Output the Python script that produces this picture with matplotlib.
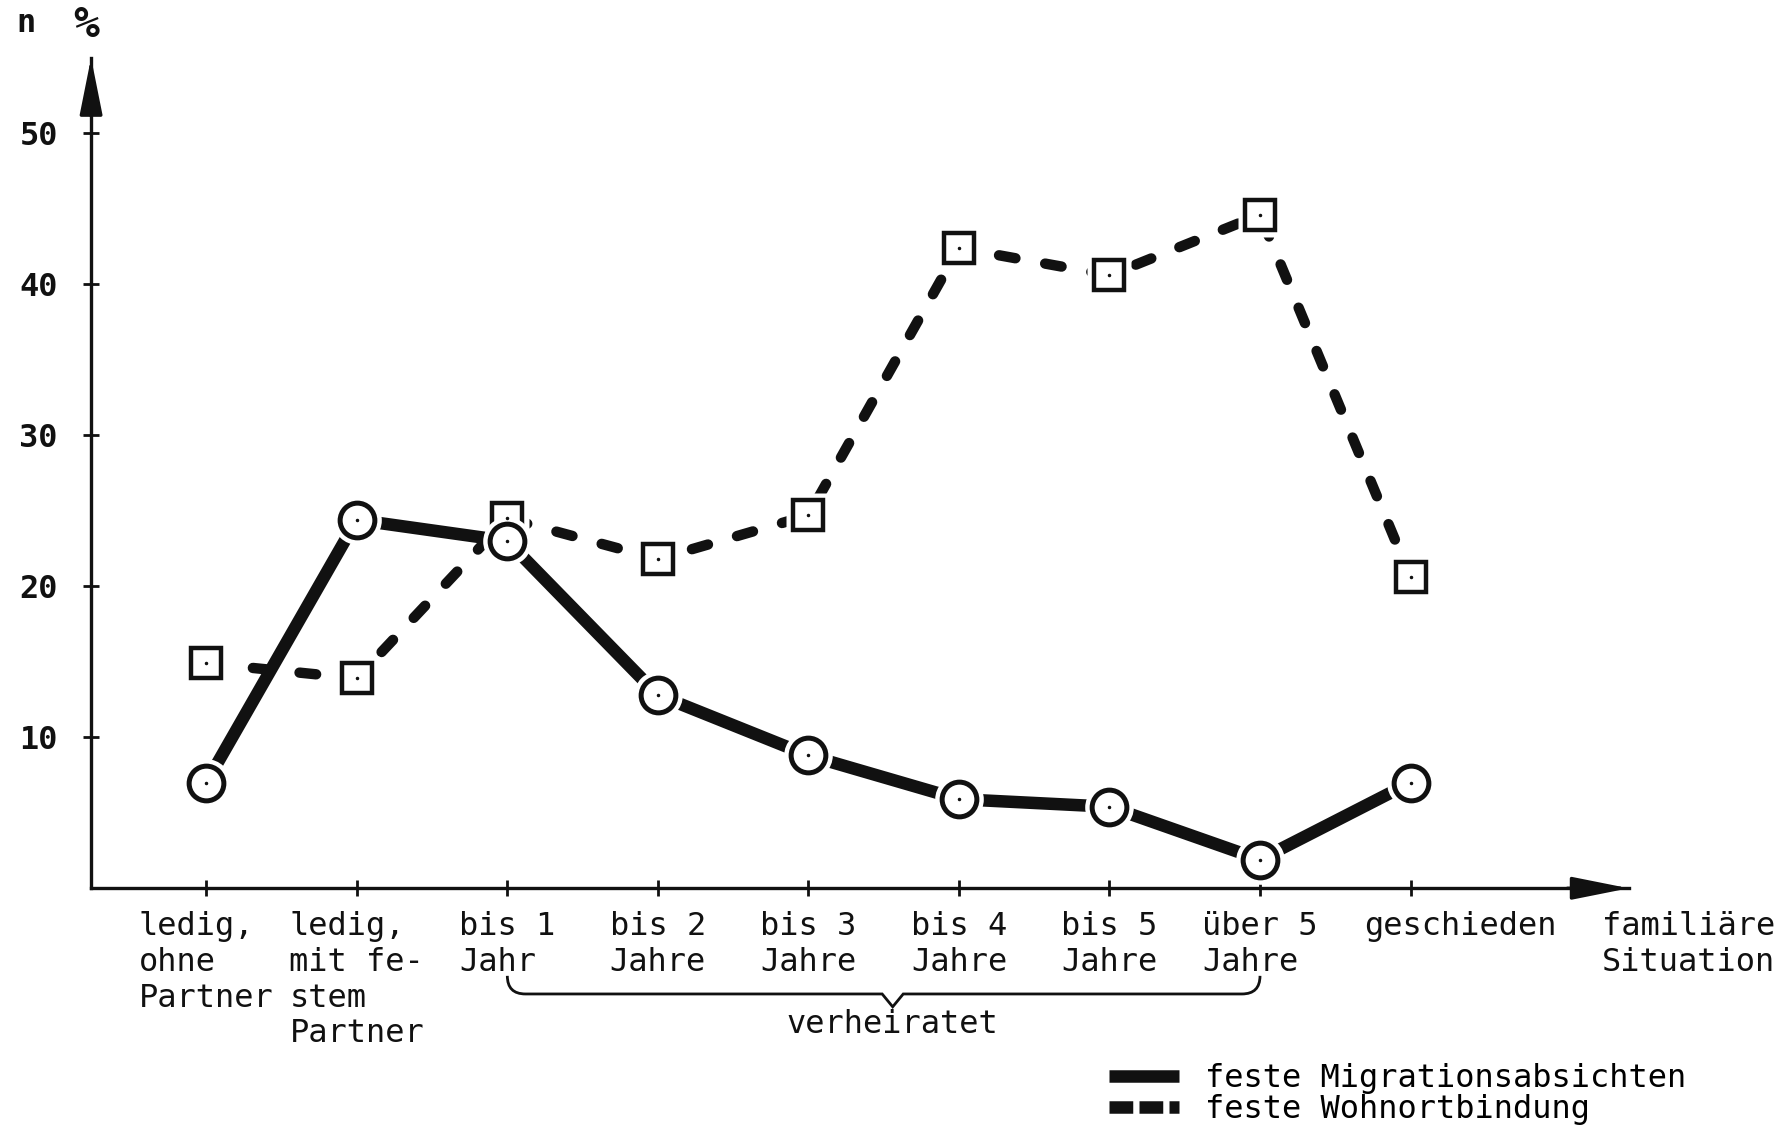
"""
Familiäre Situation vs. Migrationsabsichten / Wohnortbindung (Scan-Nachbau).
"""
import matplotlib
matplotlib.use("Agg")
import matplotlib.pyplot as plt
from matplotlib.lines import Line2D
from matplotlib.path import Path
from matplotlib.patches import PathPatch

# ── Daten ────────────────────────────────────────────────────────────────
categories = [
    "ledig,\nohne\nPartner",
    "ledig,\nmit fe-\nstem\nPartner",
    "bis 1\nJahr",
    "bis 2\nJahre",
    "bis 3\nJahre",
    "bis 4\nJahre",
    "bis 5\nJahre",
    "über 5\nJahre",
    "geschieden",
]
migration = [7.0, 24.4, 23.0, 12.8, 8.8, 5.9, 5.4, 1.9, 7.0]
wohnort = [14.9, 13.9, 24.5, 21.8, 24.7, 42.4, 40.6, 44.6, 20.6]
y_ticks = [10, 20, 30, 40, 50]
series_labels = ["feste Migrationsabsichten", "feste Wohnortbindung"]
group_label = "verheiratet"
group_span = (2, 7)          # bis 1 Jahr … über 5 Jahre
x_title = "familiäre\nSituation"

FONT = "DejaVu Sans Mono"
FS = 23
INK = "#111111"

fig = plt.figure(figsize=(17.86, 11.33), dpi=100)
ax = fig.add_axes([0.051, 0.216, 0.861, 0.733])
xs = list(range(len(categories)))
ax.set_xlim(-0.765, 9.45)
ax.set_ylim(0, 55)

# Achsen
for side in ("top", "right"):
    ax.spines[side].set_visible(False)
for side in ("left", "bottom"):
    ax.spines[side].set_linewidth(2.4)
    ax.spines[side].set_color(INK)
ax.set_xticks(xs)
ax.set_yticks(y_ticks)
ax.tick_params(axis="x", direction="inout", length=12, width=2, colors=INK,
               labelbottom=False)
ax.tick_params(axis="y", direction="inout", length=12, width=2, colors=INK,
               pad=18, labelsize=FS)
for lab in ax.get_yticklabels():
    lab.set_fontfamily(FONT)
    lab.set_fontweight("bold")

# Pfeilspitzen
arrow = dict(arrowstyle="-|>,head_length=1.6,head_width=0.32", lw=2.4,
             color=INK, mutation_scale=22, shrinkA=0, shrinkB=0)
ax.annotate("", xy=(0, 1.0), xytext=(0, 0.93), xycoords="axes fraction",
            arrowprops=arrow)
ax.annotate("", xy=(1.0, 0), xytext=(0.96, 0), xycoords="axes fraction",
            arrowprops=arrow)

# Linien
ax.plot(xs, wohnort, color=INK, lw=7.5, ls=(0, (1.6, 2.9)),
        dash_capstyle="round", zorder=2)
ax.plot(xs, migration, color=INK, lw=9, solid_capstyle="butt", zorder=3)

# Marker mit weißem Rand (Lücke zur Linie)
ax.plot(xs, wohnort, ls="none", marker="s", ms=31, mfc="white", mec="none",
        zorder=4)
ax.plot(xs, wohnort, ls="none", marker="s", ms=22, mfc="white", mec=INK,
        mew=3.2, zorder=5)
ax.plot(xs, migration, ls="none", marker="o", ms=35, mfc="white", mec="none",
        zorder=6)
ax.plot(xs, migration, ls="none", marker="o", ms=25, mfc="white", mec=INK,
        mew=3.6, zorder=7)
ax.plot(xs, wohnort, ls="none", marker=".", ms=3, color=INK, zorder=8)
ax.plot(xs, migration, ls="none", marker=".", ms=3, color=INK, zorder=8)

# Kategorien unter der Achse
txt = dict(fontfamily=FONT, fontsize=FS, color=INK, va="top",
           multialignment="left", linespacing=1.2, clip_on=False)
for i, lab in enumerate(categories):
    shift = 0.33 if lab == "geschieden" else 0.0
    ax.text(i + shift, -1.5, lab, ha="center", **txt)
ax.text(9.27, -1.5, x_title, ha="left", **txt)

# Klammer "verheiratet"
a, b = group_span
mid = (a + b) / 2 + 0.06
top, base, tip = -5.8, -7.0, -7.85
verts = [(a, top), (a, base), (a + 0.12, base), (mid - 0.07, base),
         (mid, tip), (mid + 0.07, base), (b - 0.12, base), (b, base), (b, top)]
codes = [Path.MOVETO, Path.CURVE3, Path.CURVE3, Path.LINETO, Path.LINETO,
         Path.LINETO, Path.LINETO, Path.CURVE3, Path.CURVE3]
ax.add_patch(PathPatch(Path(verts, codes), fill=False, lw=2, ec=INK,
                       clip_on=False))
ax.text(mid, -8.0, group_label, ha="center", **txt)

# Achsenbeschriftung oben
ax.text(-1.2, 57.3, "n", ha="center", va="center", fontfamily=FONT,
        fontsize=FS, fontweight="bold", color=INK, clip_on=False)
ax.text(-0.8, 57.2, "%", ha="center", va="center", fontfamily=FONT,
        fontsize=FS + 8, fontweight="bold", color=INK, clip_on=False)

# Legende
handles = [
    Line2D([], [], color=INK, lw=9, solid_capstyle="butt"),
    Line2D([], [], color=INK, lw=9, ls=(0, (1.9, 0.5)), dash_capstyle="butt"),
]
fig.legend(handles, series_labels, loc="upper left",
           bbox_to_anchor=(0.621, 0.062), frameon=False, borderpad=0,
           borderaxespad=0, handlelength=2.2, handletextpad=0.8,
           labelspacing=0.0,
           prop=dict(family=FONT, size=FS))

fig.savefig("out.png", dpi=100, facecolor="white")
